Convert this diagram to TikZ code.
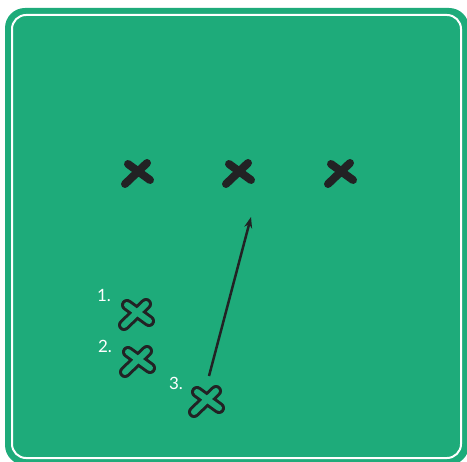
\documentclass[tikz,border=0pt]{standalone}
\usepackage{fontspec}
\setmainfont{Lato}
\usepackage{tikz}
\usetikzlibrary{arrows.meta}
\definecolor{turf}{RGB}{30,171,122}
\definecolor{ink}{RGB}{34,34,36}
\tikzset{
  solidx/.pic={\draw[ink,line width=8bp,line cap=round]
    (-12,11) -- (10,-10) (-9,-9) -- (13,7);},
  openx/.pic={\draw[ink,line width=12bp,line cap=round]
    (-12,11) -- (10,-10) (-9,-9) -- (13,7);
    \draw[turf,line width=6bp,line cap=round]
    (-12,11) -- (10,-10) (-9,-9) -- (13,7);}
}
\begin{document}
\begin{tikzpicture}[x=1bp,y=-1bp,
  board/.style={fill=turf,draw=none},
  chalk/.style={draw=white,line width=2bp},
  run/.style={-{Stealth[length=11bp,width=8bp]},line width=2.5bp,ink},
  num/.style={text=white,font=\fontsize{17}{17}\selectfont,inner sep=0pt}
]
\useasboundingbox (0,0) rectangle (467,462);
\clip (0,0) rectangle (467,462);

% Board
\fill[board,rounded corners=20bp] (5,8) rectangle (469,465);
\draw[chalk,rounded corners=14bp] (12,15) rectangle (461,458);

% Defenders
\foreach \i/\x in {1/137,2/238,3/340}{
  \coordinate (d\i) at (\x,173);
  \pic at (d\i) {solidx};
}

% Attackers
\coordinate (a1) at (136,314);
\coordinate (a2) at (137,361);
\coordinate (a3) at (206,401);
\foreach \i in {1,2,3} \pic at (a\i) {openx};

% Labels
\node[num] (l1) at (104,295) {1.};
\node[num] (l2) at (105,346) {2.};
\node[num] (l3) at (176,383) {3.};

% Cut
\coordinate (go) at (209,376);
\coordinate (gap) at (251,217);
\draw[run] (go) -- (gap);
\end{tikzpicture}
\end{document}
